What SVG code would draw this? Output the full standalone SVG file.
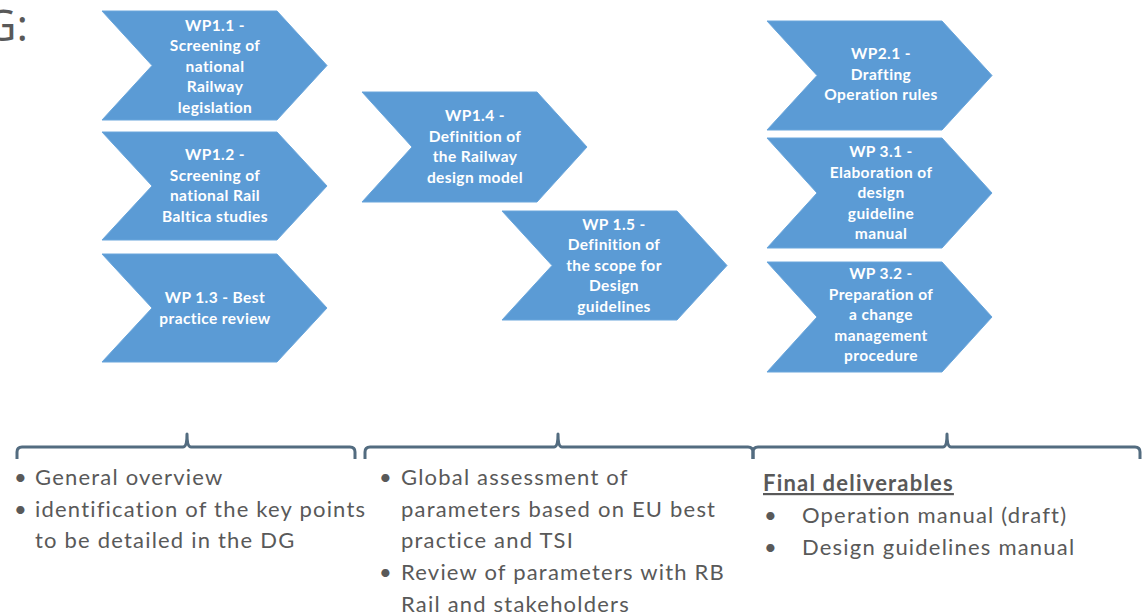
<svg xmlns="http://www.w3.org/2000/svg" width="1143" height="616" viewBox="0 0 1143 616">
  <style>
    .chev { fill: #5b9bd5; stroke: #6aa6dc; stroke-width: 1; }
    .wp { font-family: Lato, "Open Sans", sans-serif; font-weight: 700; font-size: 15.5px; letter-spacing: 0.4px; fill: #ffffff; text-anchor: middle; }
    .brace { fill: none; stroke: #536c80; stroke-width: 3; stroke-linejoin: round; }
    .body { font-family: Lato, "Open Sans", sans-serif; font-size: 22px; letter-spacing: 1.2px; fill: #595959; }
    .title { font-family: "Open Sans", "DejaVu Sans", sans-serif; font-weight: 400; font-size: 44px; fill: #595959; }
  </style>

  <rect width="1143" height="616" fill="#ffffff"/>

  <!-- heading fragment at the left edge -->
  <text class="title" x="28" y="41" text-anchor="end">G:</text>

  <!-- column 1 -->
  <g id="wp11">
    <path class="chev" d="M102 11 L277 11 L327 65.5 L277 120 L102 120 L152 65.5 Z"/>
    <text class="wp"><tspan x="215" y="30.5">WP1.1 -</tspan><tspan x="215" y="51">Screening of</tspan><tspan x="215" y="71.5">national</tspan><tspan x="215" y="92">Railway</tspan><tspan x="215" y="112.5">legislation</tspan></text>
  </g>
  <g id="wp12">
    <path class="chev" d="M102 132 L277 132 L327 186 L277 240 L102 240 L152 186 Z"/>
    <text class="wp"><tspan x="215" y="160">WP1.2 -</tspan><tspan x="215" y="180.5">Screening of</tspan><tspan x="215" y="201">national Rail</tspan><tspan x="215" y="221.5">Baltica studies</tspan></text>
  </g>
  <g id="wp13">
    <path class="chev" d="M102 254 L277 254 L327 308 L277 362 L102 362 L152 308 Z"/>
    <text class="wp"><tspan x="215" y="303">WP 1.3 - Best</tspan><tspan x="215" y="324">practice review</tspan></text>
  </g>

  <!-- column 2 -->
  <g id="wp14">
    <path class="chev" d="M362 92 L537 92 L587 147 L537 202 L362 202 L412 147 Z"/>
    <text class="wp"><tspan x="475" y="121">WP1.4 -</tspan><tspan x="475" y="141.5">Definition of</tspan><tspan x="475" y="162">the Railway</tspan><tspan x="475" y="182.5">design model</tspan></text>
  </g>
  <g id="wp15">
    <path class="chev" d="M502 211 L677 211 L727 265.5 L677 320 L502 320 L552 265.5 Z"/>
    <text class="wp"><tspan x="614" y="229.5">WP 1.5 -</tspan><tspan x="614" y="250">Definition of</tspan><tspan x="614" y="270.5">the scope for</tspan><tspan x="614" y="291">Design</tspan><tspan x="614" y="311.5">guidelines</tspan></text>
  </g>

  <!-- column 3 -->
  <g id="wp21">
    <path class="chev" d="M767 21 L942 21 L992 75.5 L942 130 L767 130 L817 75.5 Z"/>
    <text class="wp"><tspan x="881" y="59">WP2.1 -</tspan><tspan x="881" y="79.5">Drafting</tspan><tspan x="881" y="100">Operation rules</tspan></text>
  </g>
  <g id="wp31">
    <path class="chev" d="M767 138 L942 138 L992 193 L942 248 L767 248 L817 193 Z"/>
    <text class="wp"><tspan x="881" y="157">WP 3.1 -</tspan><tspan x="881" y="177.5">Elaboration of</tspan><tspan x="881" y="198">design</tspan><tspan x="881" y="218.5">guideline</tspan><tspan x="881" y="239">manual</tspan></text>
  </g>
  <g id="wp32">
    <path class="chev" d="M767 262 L942 262 L992 317 L942 372 L767 372 L817 317 Z"/>
    <text class="wp"><tspan x="881" y="279">WP 3.2 -</tspan><tspan x="881" y="299.5">Preparation of</tspan><tspan x="881" y="320">a change</tspan><tspan x="881" y="340.5">management</tspan><tspan x="881" y="361">procedure</tspan></text>
  </g>

  <!-- grouping braces -->
  <g id="braces">
    <path class="brace" d="M17 459 L17 452 Q17 447 22 447 L183 447 Q187 447 187 434 Q187 447 191 447 L350 447 Q355 447 355 452 L355 459"/>
    <path class="brace" d="M365 459 L365 452 Q365 447 370 447 L554 447 Q558 447 558 434 Q558 447 562 447 L748 447 Q753 447 753 452 L753 459"/>
    <path class="brace" d="M753 459 L753 452 Q753 447 758 447 L943 447 Q947 447 947 434 Q947 447 951 447 L1135 447 Q1140 447 1140 452 L1140 459"/>
  </g>

  <!-- summaries under the braces -->
  <g id="summary1" class="body">
    <text x="14" y="485">•</text>
    <text x="35" y="485">General overview</text>
    <text x="14" y="517">•</text>
    <text x="35" y="517">identification of the key points</text>
    <text x="35" y="548">to be detailed in the DG</text>
  </g>
  <g id="summary2" class="body">
    <text x="379" y="485">•</text>
    <text x="401" y="485">Global assessment of</text>
    <text x="401" y="517">parameters based on EU best</text>
    <text x="401" y="548">practice and TSI</text>
    <text x="379" y="580">•</text>
    <text x="401" y="580">Review of parameters with RB</text>
    <text x="401" y="612">Rail and stakeholders</text>
  </g>
  <g id="summary3" class="body">
    <text x="763" y="491" font-weight="700" text-decoration="underline">Final deliverables</text>
    <text x="764" y="523">•</text>
    <text x="802" y="523">Operation manual (draft)</text>
    <text x="764" y="555">•</text>
    <text x="802" y="555">Design guidelines manual</text>
  </g>
</svg>
